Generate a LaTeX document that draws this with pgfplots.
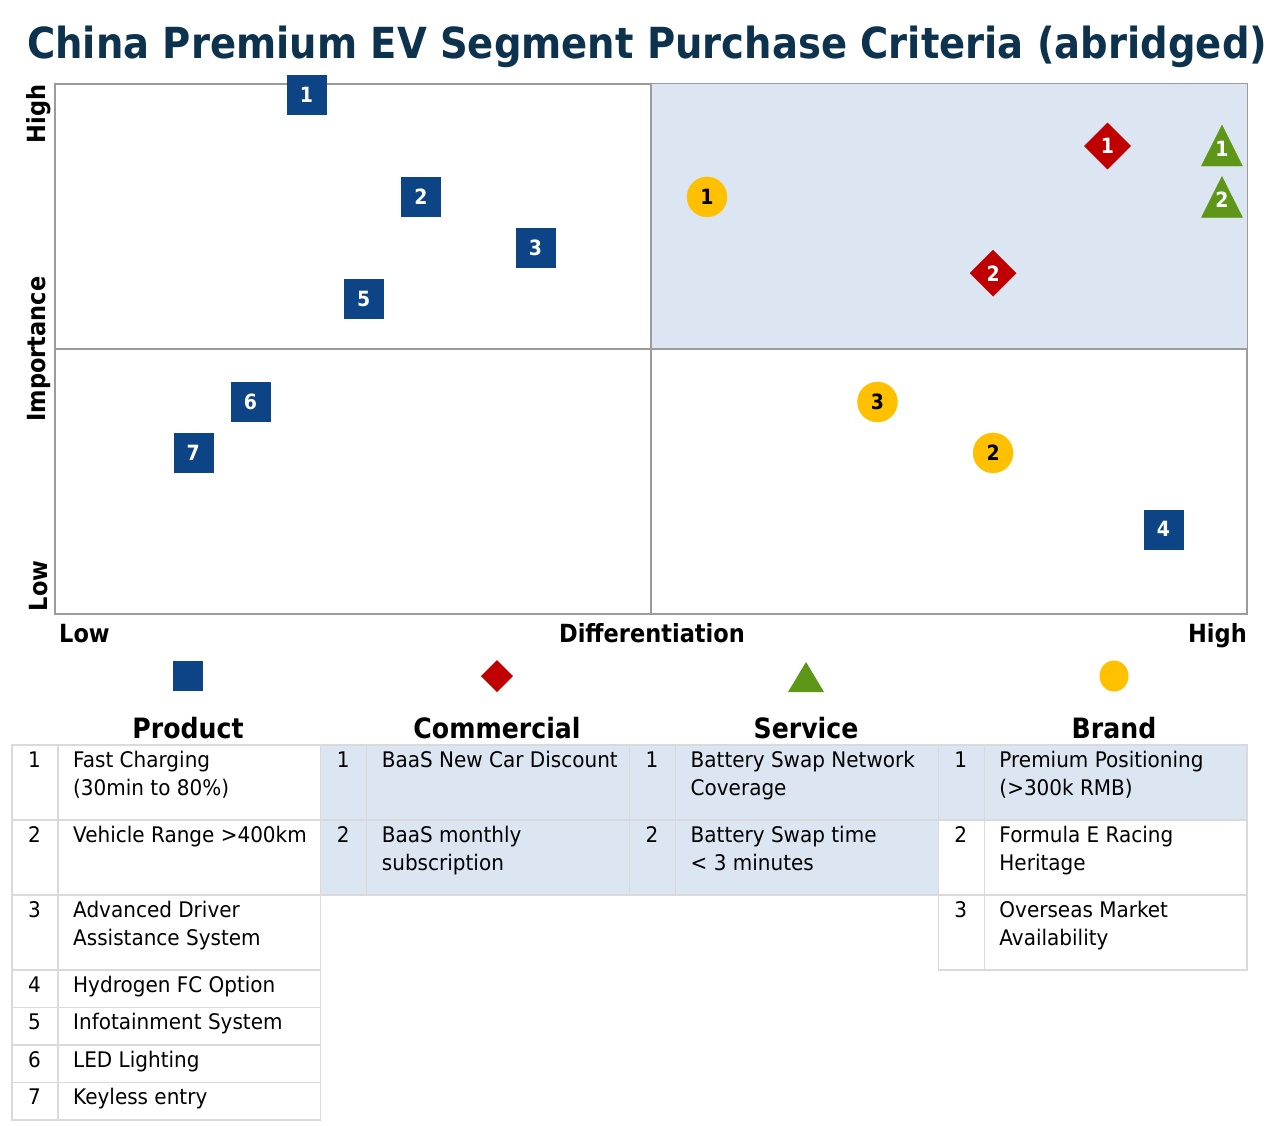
\documentclass[border=0pt]{standalone}
\usepackage{pgfplots}
\pgfplotsset{compat=1.18}
\usepackage{fontspec}
\setmainfont{DejaVu Sans}[FakeStretch=0.9]
\newfontfamily\tabfam{DejaVu Sans}[FakeStretch=0.93]
\usetikzlibrary{calc}
\definecolor{navy}{RGB}{12,68,134}
\definecolor{dred}{RGB}{192,0,0}
\definecolor{grn}{RGB}{94,151,23}
\definecolor{yel}{RGB}{255,192,0}
\definecolor{qfill}{RGB}{220,230,242}
\definecolor{titlec}{RGB}{12,50,78}
\definecolor{framec}{RGB}{155,155,155}
\definecolor{tl}{RGB}{218,218,218}

\pgfplotstableread{
x y lab
21.1 97.9 1
30.7 78.7 2
40.3 69.1 3
93.0 16.0 4
25.9 59.4 5
16.4 40.0 6
11.6 30.4 7
}\product
\pgfplotstableread{
x y lab
88.3 88.3 1
78.7 64.3 2
}\commercial
\pgfplotstableread{
x y lab
97.9 87.1 1
97.9 77.4 2
}\service
\pgfplotstableread{
x y lab
54.7 78.7 1
78.7 30.4 2
69.0 40.0 3
}\brand

\newcommand\tcell[6]{%
  \draw[tl,line width=1.2pt] (#1,#2) rectangle (#1+46,#3);
  \draw[tl,line width=1.2pt] (#1+46,#2) rectangle (#1+308.75,#3);
  \node[anchor=base,tabfont,inner sep=0pt] at (#1+22.5,#2+22) {#4};
  \node[anchor=base west,tabfont,inner sep=0pt] at (#1+61,#2+22) {#5};
  \node[anchor=base west,tabfont,inner sep=0pt] at (#1+61,#2+50) {#6};
}

\begin{document}
\begin{tikzpicture}[
  tabfont/.style={font=\tabfam\fontsize{21.5}{28}\selectfont, text=black},
  lblfont/.style={font=\bfseries\fontsize{25}{28}\selectfont, text=black},
  hdrfont/.style={font=\bfseries\fontsize{28}{32}\selectfont, text=black},
  numlab/.style={font=\bfseries\fontsize{21}{21}\selectfont, text=white, anchor=center, inner sep=0pt}
]
\path[use as bounding box] (0,0) rectangle (1285pt,-1125pt);
\begin{axis}[
  at={(55pt,-614pt)}, anchor=south west, scale only axis,
  width=1192pt, height=530pt,
  xmin=0, xmax=100, ymin=0, ymax=100,
  ticks=none, clip=false,
  axis line style={framec, line width=2pt},
  point meta=explicit symbolic,
  nodes near coords,
  every node near coord/.append style={numlab},
]
\fill[qfill] (axis cs:50,50) rectangle (axis cs:100,100);
\draw[framec, line width=1.6pt] (axis cs:50,0) -- (axis cs:50,100);
\draw[framec, line width=1.6pt] (axis cs:0,50) -- (axis cs:100,50);
\addplot[only marks, mark=square*, mark size=19.5pt, color=navy] table[x=x,y=y,meta=lab] {\product};
\addplot[only marks, mark=square*, mark size=16.3pt, mark options={rotate=45}, color=dred] table[x=x,y=y,meta=lab] {\commercial};
\addplot[only marks, mark=triangle*, mark size=23.7pt, mark options={yscale=1.15}, color=grn, every node near coord/.append style={yshift=4pt}] table[x=x,y=y,meta=lab] {\service};
\addplot[only marks, mark=*, mark size=20pt, color=yel, every node near coord/.append style={text=black}] table[x=x,y=y,meta=lab] {\brand};
\end{axis}

\begin{scope}[x=1pt,y=-1pt]
% title
\node[anchor=base west, inner sep=0pt, text=titlec] at (27,58)
  {\resizebox{1240pt}{!}{\bfseries\fontsize{44}{50}\selectfont China Premium EV Segment Purchase Criteria (abridged)}};
% axis labels
\node[lblfont, anchor=base west, inner sep=0pt] at (59,642) {Low};
\node[lblfont, anchor=base, inner sep=0pt] at (652,642) {Differentiation};
\node[lblfont, anchor=base east, inner sep=0pt] at (1247,642) {High};
\node[lblfont, rotate=90, inner sep=0pt] at (39,114) {High};
\node[lblfont, rotate=90, inner sep=0pt] at (39,349) {Importance};
\node[lblfont, rotate=90, inner sep=0pt] at (39,586) {Low};
% legend glyphs
\fill[navy] (173,661) rectangle (203,691);
\fill[dred] (497,660) -- (513,676) -- (497,692) -- (481,676) -- cycle;
\fill[grn] (788,692) -- (824,692) -- (806,662) -- cycle;
\fill[yel] (1114,676) ellipse [x radius=14.5, y radius=15.5];
% headers
\node[hdrfont, anchor=base, inner sep=0pt] at (188,738) {Product};
\node[hdrfont, anchor=base, inner sep=0pt] at (497,738) {Commercial};
\node[hdrfont, anchor=base, inner sep=0pt] at (806,738) {Service};
\node[hdrfont, anchor=base, inner sep=0pt] at (1114,738) {Brand};
% table fills
\fill[qfill] (320.75,745) rectangle (938.25,895);
\fill[qfill] (938.25,745) rectangle (1247,820);
% product
\tcell{12}{745}{820}{1}{Fast Charging}{(30min to 80\%)}
\tcell{12}{820}{895}{2}{Vehicle Range >400km}{}
\tcell{12}{895}{970}{3}{Advanced Driver}{Assistance System}
\tcell{12}{970}{1007.5}{4}{Hydrogen FC Option}{}
\tcell{12}{1007.5}{1045}{5}{Infotainment System}{}
\tcell{12}{1045}{1082.5}{6}{LED Lighting}{}
\tcell{12}{1082.5}{1120}{7}{Keyless entry}{}
% commercial
\tcell{320.75}{745}{820}{1}{BaaS New Car Discount}{}
\tcell{320.75}{820}{895}{2}{BaaS monthly}{subscription}
% service
\tcell{629.5}{745}{820}{1}{Battery Swap Network}{Coverage}
\tcell{629.5}{820}{895}{2}{Battery Swap time}{< 3 minutes}
% brand
\tcell{938.25}{745}{820}{1}{Premium Positioning}{(>300k RMB)}
\tcell{938.25}{820}{895}{2}{Formula E Racing}{Heritage}
\tcell{938.25}{895}{970}{3}{Overseas Market}{Availability}
\end{scope}
\end{tikzpicture}
\end{document}
